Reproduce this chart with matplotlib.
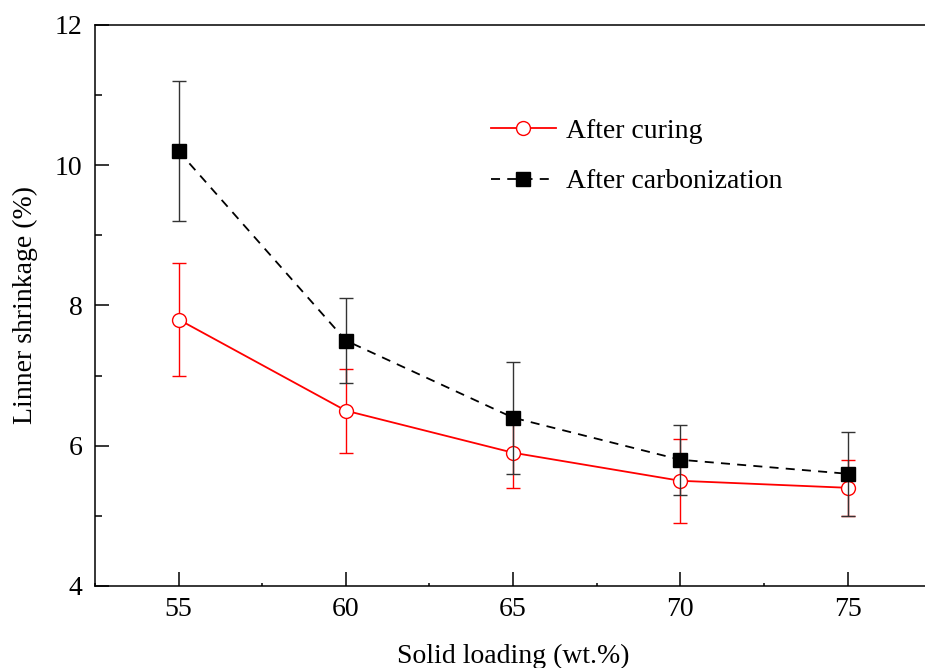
import matplotlib
matplotlib.use("Agg")
import matplotlib.pyplot as plt
from matplotlib.ticker import MultipleLocator

plt.rcParams['font.family'] = ['Liberation Serif', 'DejaVu Serif']

# data
loading = [55, 60, 65, 70, 75]
curing = [7.8, 6.5, 5.9, 5.5, 5.4]
curing_err = [0.8, 0.6, 0.5, 0.6, 0.4]
carbon = [10.2, 7.5, 6.4, 5.8, 5.6]
carbon_err = [1.0, 0.6, 0.8, 0.5, 0.6]

fig = plt.figure(figsize=(9.25, 6.68), dpi=100)
ax = fig.add_axes([0.1027, 0.1228, 0.904, 0.8398])

c1 = ax.errorbar(loading, curing, yerr=curing_err, color='red', lw=1.3,
                 marker='o', ms=10, mfc='white', mec='red', mew=1.0,
                 ecolor='red', elinewidth=1.0, capsize=5, capthick=1.0,
                 zorder=3)
c2 = ax.errorbar(loading, carbon, yerr=carbon_err, color='black', lw=1.3,
                 ls=(0, (5, 4)), marker='s', ms=10.5, mfc='black', mec='black',
                 ecolor='#333333', elinewidth=1.0, capsize=5, capthick=1.0,
                 zorder=4)

ax.set_xlim(52.5, 77.5)
ax.set_ylim(4, 12)
ax.xaxis.set_major_locator(MultipleLocator(5))
ax.xaxis.set_minor_locator(MultipleLocator(2.5))
ax.yaxis.set_major_locator(MultipleLocator(2))
ax.yaxis.set_minor_locator(MultipleLocator(1))

ax.tick_params(which='both', direction='in', labelsize=20, width=1.1)
ax.tick_params(axis='y', which='major', length=10, pad=9)
ax.tick_params(axis='y', which='minor', length=5)
ax.tick_params(axis='x', which='major', length=10, pad=8)
ax.tick_params(axis='x', which='minor', length=2)
for sp in ax.spines.values():
    sp.set_linewidth(1.1)

ax.set_xlabel('Solid loading (wt.%)', fontsize=20, labelpad=16)
ax.set_ylabel('Linner shrinkage (%)', fontsize=20, labelpad=12)

ax.legend([c1[0], c2[0]], ['After curing', 'After carbonization'],
          loc='upper left', bbox_to_anchor=(0.4435, 0.878), frameon=False,
          fontsize=20, handlelength=2.35, handletextpad=0.36,
          labelspacing=0.9)

fig.savefig('out.png', dpi=100)
